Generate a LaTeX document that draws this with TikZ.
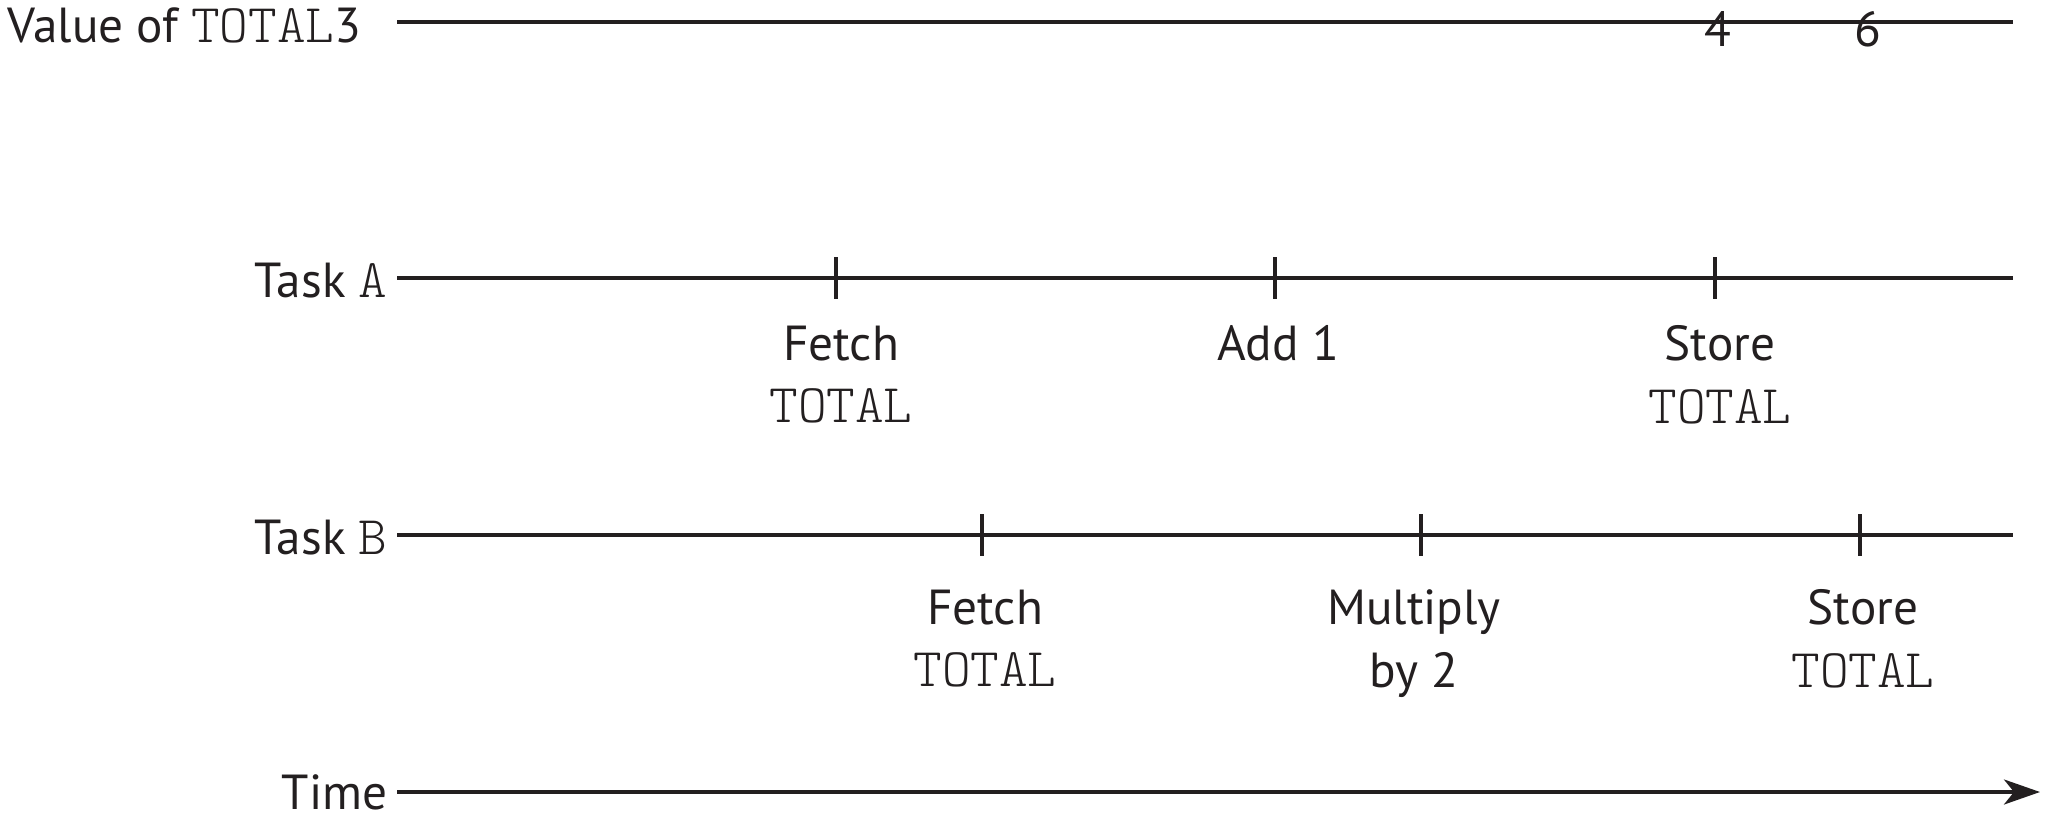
\documentclass[tikz,border=0pt]{standalone}
\usepackage{fontspec}
\setmainfont{PT Sans}
\setmonofont{lmmonolt10-regular.otf}
\usetikzlibrary{arrows.meta,positioning}
\definecolor{ink}{RGB}{35,31,32}
\newcommand\mono[1]{{\fontsize{15.5pt}{17.8pt}\ttfamily #1}}

\begin{document}
\begin{tikzpicture}[x=0.01cm,y=-0.01cm,color=ink,
  font=\fontsize{14pt}{17.8pt}\selectfont,
  timeline/.style={line width=0.95pt},
  rowlabel/.style={anchor=base east,inner sep=0pt},
  evlabel/.style={align=center,inner sep=0pt}]
\useasboundingbox (0,0) rectangle (2048,818);

% value of TOTAL
\node[anchor=base west,inner sep=0pt] (vlab) at (7,42) {Value of \mono{TOTAL}3};
\coordinate (v0) at (397,22);
\coordinate (v1) at (2013,22);
\draw[timeline] (v0) -- (v1);
\node[inner sep=0pt] (v4) at (1718,29) {4};
\node[inner sep=0pt] (v6) at (1868,29) {6};

% task A
\node[rowlabel] (la) at (388,297) {Task \mono{A}};
\coordinate (a0) at (397,278);
\coordinate (a1) at (2013,278);
\draw[timeline] (a0) -- (a1);
\coordinate (fa) at (836,278);
\coordinate (ada) at (1275,278);
\coordinate (sa) at (1715,278);
\foreach \c in {fa,ada,sa} \draw[timeline] (\c) ++(0,-21) -- ++(0,42);
\node[evlabel,below=0.47cm of fa,xshift=0.05cm] (fatxt) {Fetch\\\mono{TOTAL}};
\node[evlabel,below=0.47cm of ada,xshift=0.03cm] (adatxt) {Add 1};
\node[evlabel,below=0.47cm of sa,xshift=0.05cm] (satxt) {Store\\\mono{TOTAL}};

% task B
\node[rowlabel] (lb) at (388,554) {Task \mono{B}};
\coordinate (b0) at (397,535);
\coordinate (b1) at (2013,535);
\draw[timeline] (b0) -- (b1);
\coordinate (fb) at (982,535);
\coordinate (mb) at (1421,535);
\coordinate (sb) at (1860,535);
\foreach \c in {fb,mb,sb} \draw[timeline] (\c) ++(0,-21) -- ++(0,42);
\node[evlabel,below=0.54cm of fb,xshift=0.03cm] (fbtxt) {Fetch\\\mono{TOTAL}};
\node[evlabel,below=0.54cm of mb,xshift=-0.07cm] (mbtxt) {Multiply\\by 2};
\node[evlabel,below=0.54cm of sb,xshift=0.03cm] (sbtxt) {Store\\\mono{TOTAL}};

% time
\node[rowlabel] (lt) at (388,809) {Time};
\coordinate (t0) at (397,792);
\coordinate (t1) at (2040,792);
\draw[timeline,-{Stealth[length=0.36cm,width=0.25cm,inset=0.1cm]}] (t0) -- (t1);

\end{tikzpicture}
\end{document}
